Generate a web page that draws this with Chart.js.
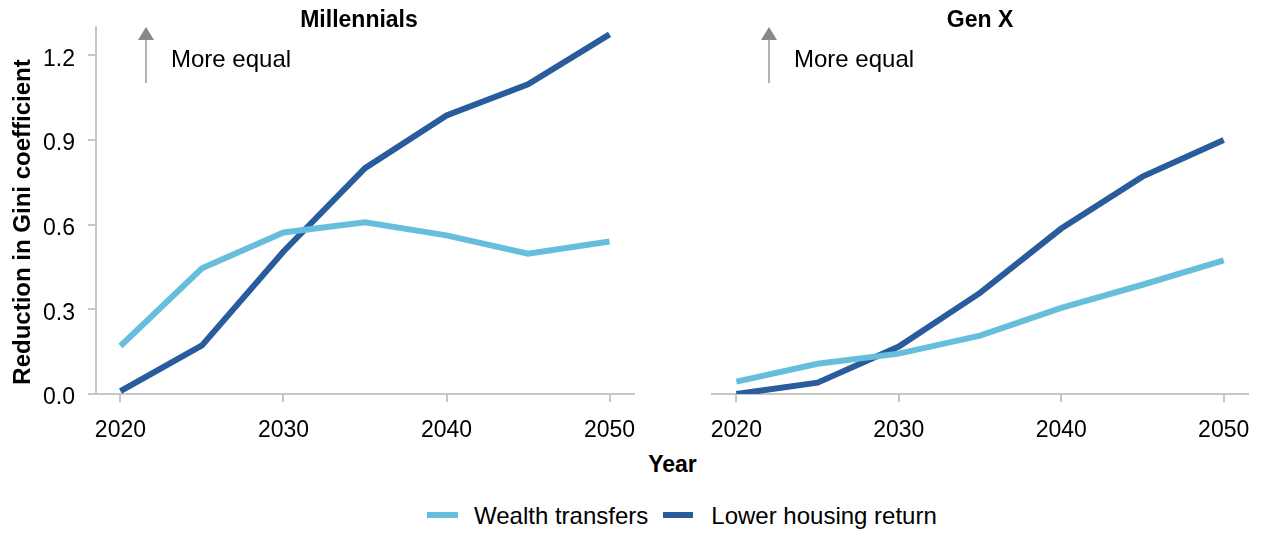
<!DOCTYPE html>
<html>
<head>
<meta charset="utf-8">
<script src="https://cdn.jsdelivr.net/npm/chart.js@4/dist/chart.umd.min.js"></script>
<style>
  body { margin: 0; background: #fff; width: 1265px; height: 533px; overflow: hidden;
         font-family: "Liberation Sans", Arial, sans-serif; }
  #wrap { position: relative; width: 1265px; height: 533px; }
  #left  { position: absolute; left: 0;   top: 0; }
  #right { position: absolute; left: 650px; top: 0; }
  #xtitle { position: absolute; left: 0; width: 1345px; top: 451px; text-align: center;
            font-weight: bold; font-size: 23px; }
  #legend { position: absolute; left: 427px; top: 502px; font-size: 24px; white-space: nowrap; }
  #legend .sw { display: inline-block; width: 31px; height: 6px; vertical-align: middle;
                position: relative; top: -3px; }
</style>
</head>
<body>
<div id="wrap">
  <canvas id="left" width="660" height="440"></canvas>
  <canvas id="right" width="615" height="440"></canvas>
  <div id="xtitle">Year</div>
  <div id="legend">
    <span class="sw" style="background:#66bedc"></span><span style="margin-left:16px">Wealth transfers</span><span class="sw" style="background:#295c9c;margin-left:15px;width:30px"></span><span style="margin-left:18px">Lower housing return</span>
  </div>
</div>
<script>
// ── Data ───────────────────────────────────────────────────────────────────

const years = [2020, 2025, 2030, 2035, 2040, 2045, 2050];
const xTicks = [2020, 2030, 2040, 2050];
const yTicks = [0, 0.3, 0.6, 0.9, 1.2];

const millWealth  = [0.17, 0.445, 0.572, 0.608, 0.562, 0.497, 0.54];
const millHousing = [0.01, 0.172, 0.505, 0.80, 0.987, 1.097, 1.274];

const genxWealth  = [0.044, 0.107, 0.143, 0.207, 0.305, 0.387, 0.473];
const genxHousing = [0.0, 0.04, 0.168, 0.358, 0.586, 0.77, 0.90];

const seriesNames = ["Wealth transfers", "Lower housing return"];

// ── Styles ─────────────────────────────────────────────────────────────────

const LIGHT = "#66bedc";
const DARK  = "#295c9c";
const AXIS  = "#c6c6c6";
const FONT  = '"Liberation Sans", Arial, sans-serif';

Chart.defaults.font.family = FONT;
Chart.defaults.font.size = 23;
Chart.defaults.color = "#000";

// Panel title, y-axis title and "More equal" arrow
const panelDecor = {
  id: "panelDecor",
  afterDraw(chart, args, opts) {
    const { ctx, chartArea } = chart;
    ctx.save();
    ctx.fillStyle = "#000";
    ctx.font = `bold 23px ${FONT}`;
    ctx.textAlign = "center";
    ctx.textBaseline = "alphabetic";
    ctx.fillText(opts.title, opts.titleX, 27);

    if (opts.yTitle) {
      ctx.save();
      ctx.translate(30, 222);
      ctx.rotate(-Math.PI / 2);
      ctx.font = `bold 24px ${FONT}`;
      ctx.fillText(opts.yTitle, 0, 0);
      ctx.restore();
    }

    const ax = chartArea.left + opts.arrowOffset;
    ctx.strokeStyle = "#b7b2ad";
    ctx.lineWidth = 2;
    ctx.beginPath(); ctx.moveTo(ax, 83); ctx.lineTo(ax, 38); ctx.stroke();
    ctx.fillStyle = "#8c8782";
    ctx.beginPath(); ctx.moveTo(ax, 27); ctx.lineTo(ax - 8, 40); ctx.lineTo(ax + 8, 40); ctx.closePath(); ctx.fill();

    ctx.fillStyle = "#000";
    ctx.font = `24px ${FONT}`;
    ctx.textAlign = "left";
    ctx.fillText("More equal", ax + 25, 67);
    ctx.restore();
  }
};

function pts(vals) { return years.map((x, i) => ({ x, y: vals[i] })); }

function mkPanel(id, title, wealth, housing, opts) {
  return new Chart(document.getElementById(id), {
    type: "line",
    data: {
      datasets: [
        { label: seriesNames[0], data: pts(wealth),  borderColor: LIGHT, borderWidth: 6, pointRadius: 0, tension: 0 },
        { label: seriesNames[1], data: pts(housing), borderColor: DARK,  borderWidth: 6, pointRadius: 0, tension: 0 },
      ],
    },
    options: {
      responsive: false,
      animation: false,
      layout: { padding: opts.padding },
      plugins: {
        legend: { display: false },
        tooltip: { enabled: false },
        panelDecor: { title, titleX: opts.titleX, arrowOffset: opts.arrowOffset, yTitle: opts.yTitle },
      },
      scales: {
        x: {
          type: "linear", min: 2018.5, max: 2051.5,
          afterBuildTicks: s => { s.ticks = xTicks.map(v => ({ value: v })); },
          afterFit: s => { s.height = 46; },
          border: { color: AXIS, width: 2 },
          grid: { drawOnChartArea: false, color: AXIS, lineWidth: 2, tickLength: 8 },
          ticks: { callback: v => String(v), padding: 15, maxRotation: 0, autoSkip: false },
        },
        y: {
          display: opts.showY,
          min: 0, max: 1.3,
          afterBuildTicks: s => { s.ticks = yTicks.map(v => ({ value: v })); },
          afterFit: s => { s.width = opts.showY ? 96 : 0; },
          border: { color: AXIS, width: 2 },
          grid: { drawOnChartArea: false, color: AXIS, lineWidth: 2, tickLength: 8 },
          ticks: { callback: v => Number(v).toFixed(1), padding: 13, labelOffset: 4 },
        },
      },
    },
    plugins: [panelDecor],
  });
}

mkPanel("left", "Millennials", millWealth, millHousing,
  { padding: { left: 0, right: 26, top: 27, bottom: 0 }, titleX: 359, arrowOffset: 50,
    showY: true, yTitle: "Reduction in Gini coefficient" });
mkPanel("right", "Gen X", genxWealth, genxHousing,
  { padding: { left: 62, right: 16, top: 27, bottom: 0 }, titleX: 330, arrowOffset: 57,
    showY: false, yTitle: null });
</script>
</body>
</html>
